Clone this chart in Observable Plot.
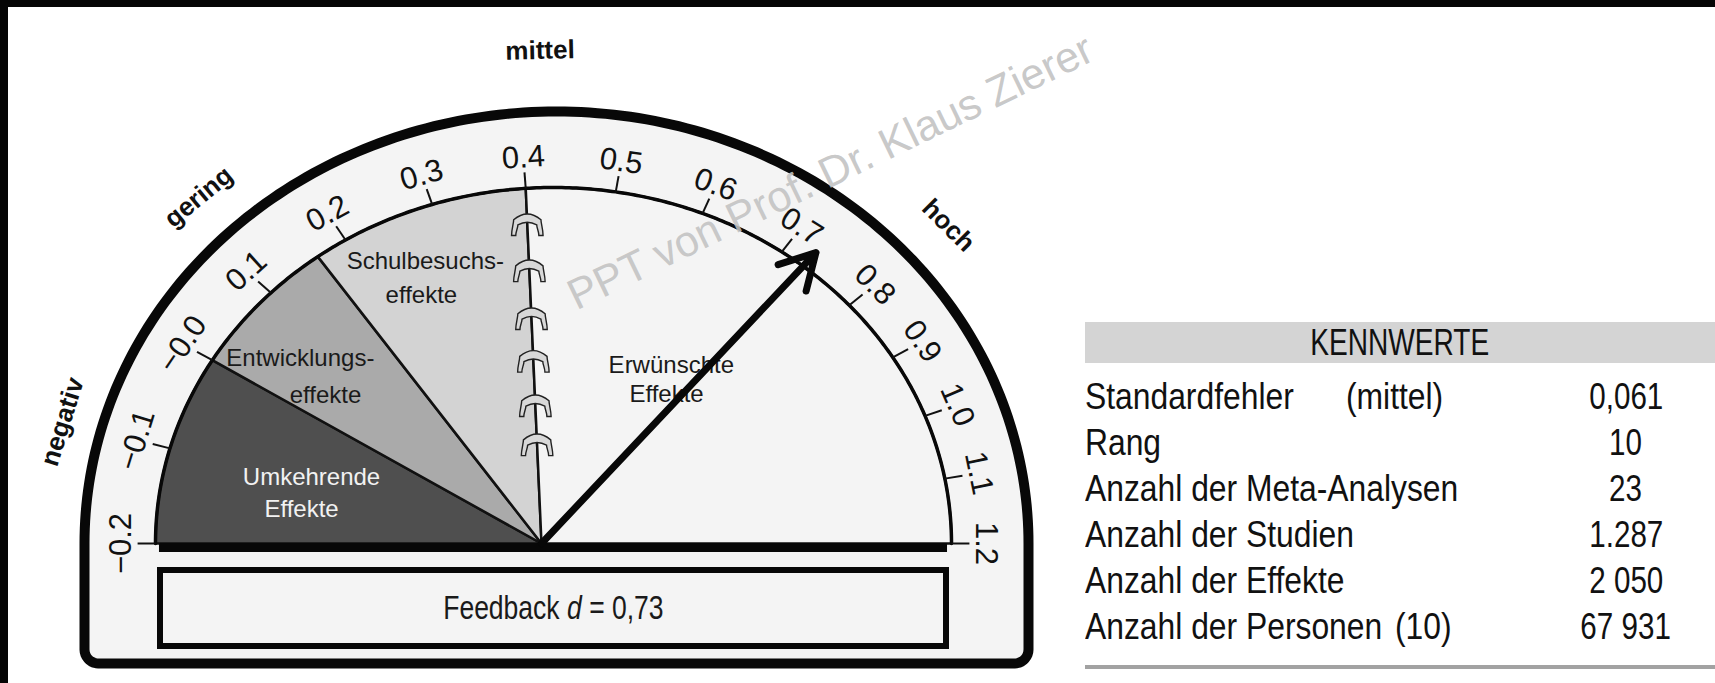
<!DOCTYPE html>
<html><head><meta charset="utf-8">
<script src="https://cdn.jsdelivr.net/npm/d3@7"></script>
<script src="https://cdn.jsdelivr.net/npm/@observablehq/plot@0.6"></script>
<style>
html,body{margin:0;padding:0;background:#fff;}
body{width:1715px;height:683px;position:relative;overflow:hidden;font-family:"Liberation Sans",Arial,sans-serif;color:#111;}
#chart{position:absolute;left:0;top:0;}
.frame{position:absolute;background:#050505;}
.kw{position:absolute;white-space:nowrap;}
.kw span{display:inline-block;}
</style></head><body>
<div id="chart"></div>
<div id="table"></div>
<div class="frame" style="left:0;top:0;width:1715px;height:7px"></div>
<div class="frame" style="left:0;top:0;width:8px;height:683px"></div>
<script>
// ---------------- data ----------------
const scaleTicks = [-0.2,-0.1,0.0,0.1,0.2,0.3,0.4,0.5,0.6,0.7,0.8,0.9,1.0,1.1,1.2];
const tickLabels = ["−0.2","−0.1","−0.0","0.1","0.2","0.3","0.4","0.5","0.6","0.7","0.8","0.9","1.0","1.1","1.2"];
const zoneNames  = ["Umkehrende Effekte","Entwicklungseffekte","Schulbesuchseffekte","Erwünschte Effekte"];
const zoneStart  = [-0.2, 0.0, 0.165, 0.4];
const zoneEnd    = [0.0, 0.165, 0.4, 1.2];
const zoneLines  = [["Umkehrende","Effekte"],["Entwicklungs-","effekte"],["Schulbesuchs-","effekte"],["Erwünschte","Effekte"]];
const levelNames = ["negativ","gering","mittel","hoch"];
const levelAt    = [-0.1, 0.12, 0.42, 0.8];
const hingeValue = 0.4;
const hingeTeeth = [0.28, 0.39, 0.515, 0.635, 0.77, 0.9];
const effectName = "Feedback";
const effectD    = 0.73;
const kennTitle  = "KENNWERTE";
const kennLabels = ["Standardfehler","Rang","Anzahl der Meta-Analysen","Anzahl der Studien","Anzahl der Effekte","Anzahl der Personen"];
const kennNotes  = ["(mittel)","","","","","(10)"];
const kennValues = ["0,061","10","23","1.287","2 050","67 931"];
const watermark  = "PPT von Prof. Dr. Klaus Zierer";

// ---------------- layout & style ----------------
const W = 1715, H = 683;
const CX = 553, CY = 543, RX = 398, RY = 356;          // dial centre and inner radii (px)
const rad = Math.PI / 180;
const angle = d3.scaleLinear().domain([-0.2, 0.0, 0.4, 0.8, 1.2]).range([180, 149, 94, 42, 0]);
const px = (v, r = 1) => r * Math.cos(angle(v) * rad);
const py = (v, r = 1) => r * Math.sin(angle(v) * rad);
const tangent = v => Math.atan2(RY * Math.cos(angle(v) * rad), RX * Math.sin(angle(v) * rad)) / rad;
const pivot = {x: -12 / RX, y: 0};
const zoneFill = ["#4f4f4f", "#aaaaaa", "#d3d3d3", "#f4f4f4"];
const zoneText = ["#f2f2f2", "#1a1a1a", "#1a1a1a", "#1a1a1a"];
const zoneLabelPos = [
  [{x:-0.608,y:0.185},{x:-0.633,y:0.096}],
  [{x:-0.636,y:0.520},{x:-0.573,y:0.416}],
  [{x:-0.322,y:0.792},{x:-0.332,y:0.697}],
  [{x: 0.296,y:0.500},{x: 0.284,y:0.419}]
];
const levelRadius = [1.28, 1.32, 1.385, 1.335];

// outer frame (semi-ellipse + lower band with rounded corners)
const OCX = 3 / RX, ORX = 472 / RX, ORY = 432 / RY, OBOT = (CY - 663) / RY, cx = 14 / RX, cy = 14 / RY;
const outer = [];
for (let a = 180; a >= 0; a -= 1) outer.push({x: OCX + ORX * Math.cos(a * rad), y: ORY * Math.sin(a * rad)});
for (let a = 0; a >= -90; a -= 10) outer.push({x: OCX + ORX - cx + cx * Math.cos(a * rad), y: OBOT + cy + cy * Math.sin(a * rad)});
for (let a = -90; a >= -180; a -= 10) outer.push({x: OCX - ORX + cx + cx * Math.cos(a * rad), y: OBOT + cy + cy * Math.sin(a * rad)});
outer.push(outer[0]);

const sampleArc = (a, b) => { const n = Math.max(2, Math.round((b - a) / 0.004)); return d3.range(n + 1).map(i => a + (b - a) * i / n); };
const sectors = zoneNames.map((name, i) => [pivot, ...sampleArc(zoneStart[i], zoneEnd[i]).map(v => ({x: px(v), y: py(v)})), pivot]);
const innerArc = sampleArc(-0.2, 1.2).map(v => ({x: px(v), y: py(v)}));

// hinge tooth: arched cap with splayed legs
const arch = {
  draw(ctx) {
    const s = 1.05;
    ctx.moveTo(-15 * s, 11 * s);
    ctx.bezierCurveTo(-15 * s, 5 * s, -13 * s, 0, -13 * s, -4 * s);
    ctx.quadraticCurveTo(0, -15 * s, 13 * s, -4 * s);
    ctx.bezierCurveTo(13 * s, 0, 15 * s, 5 * s, 15 * s, 11 * s);
    ctx.lineTo(11 * s, 11 * s);
    ctx.bezierCurveTo(11 * s, 7 * s, 9 * s, 4 * s, 9 * s, 1 * s);
    ctx.quadraticCurveTo(0, -4 * s, -9 * s, 1 * s);
    ctx.bezierCurveTo(-9 * s, 4 * s, -11 * s, 7 * s, -11 * s, 11 * s);
    ctx.closePath();
  }
};

const box = {x1: (160 - CX) / RX, x2: (946 - CX) / RX, y1: (CY - 570) / RY, y2: (CY - 646) / RY};
const fmt = v => String(v).replace(".", ",");
const labelData = zoneLines.flatMap((lines, i) => lines.map((t, j) => ({t, i, ...zoneLabelPos[i][j]})));

const plot = Plot.plot({
  width: W, height: H, margin: 0,
  x: {type: "linear", domain: [(0 - CX) / RX, (W - CX) / RX], range: [0, W], axis: null},
  y: {type: "linear", domain: [(CY - H) / RY, CY / RY], range: [H, 0], axis: null},
  style: {fontFamily: "'Liberation Sans', Arial, sans-serif", background: "transparent", overflow: "visible"},
  marks: [
    Plot.line(outer, {x: "x", y: "y", fill: "#f4f4f4", stroke: "#080808", strokeWidth: 10, strokeLinejoin: "round", curve: "linear"}),
    sectors.map((pts, i) => Plot.line(pts, {x: "x", y: "y", fill: zoneFill[i], stroke: "#111", strokeWidth: 2.5, strokeLinejoin: "round"})),
    Plot.line(innerArc, {x: "x", y: "y", stroke: "#080808", strokeWidth: 3.5}),
    Plot.link(scaleTicks, {x1: v => px(v, 1), y1: v => py(v, 1), x2: v => px(v, 1.045), y2: v => py(v, 1.045), stroke: "#111", strokeWidth: 2}),
    Plot.text(scaleTicks, {x: v => px(v, 1.087), y: v => py(v, 1.087), text: (v, i) => tickLabels[i], rotate: v => tangent(v), fontSize: 31, fill: "#111"}),
    Plot.dot(hingeTeeth, {x: f => pivot.x + f * (px(hingeValue) - pivot.x), y: f => f * py(hingeValue), symbol: arch, r: 15, fill: "#d8d8d8", stroke: "#222", strokeWidth: 1.4}),
    Plot.ruleY([0], {x1: -0.99, x2: 0.99, stroke: "#080808", strokeWidth: 9, dy: 4}),
    Plot.rect([effectD], {x1: box.x1, x2: box.x2, y1: box.y1, y2: box.y2, fill: "#f4f4f4", stroke: "#080808", strokeWidth: 6}),
    Plot.text([effectD], {x: 0, y: (box.y1 + box.y2) / 2, text: d => `${effectName} d = ${fmt(d)}`, fontSize: 34, fill: "#1a1a1a"}),
    Plot.text(labelData, {x: "x", y: "y", text: "t", fill: d => zoneText[d.i], fontSize: 24}),
    Plot.text(levelNames, {x: (d, i) => px(levelAt[i], levelRadius[i]), y: (d, i) => py(levelAt[i], levelRadius[i]), text: d => d, rotate: (d, i) => tangent(levelAt[i]), fontSize: 26, fontWeight: "bold", fill: "#111"}),
    Plot.arrow([effectD], {x1: pivot.x, y1: 0, x2: v => px(v, 1.05), y2: v => py(v, 1.05), stroke: "#080808", strokeWidth: 7, headLength: 8.5, headAngle: 58}),
    Plot.text([watermark], {x: 0.696, y: 1.042, text: d => d, rotate: -25.8, fontSize: 43, fill: "#c2c2c2", fillOpacity: 0.9})
  ]
});
document.getElementById("chart").appendChild(plot);

// italic "d" and condensed feedback label
const svgNS = "http://www.w3.org/2000/svg";
for (const t of plot.querySelectorAll("text")) {
  if (t.textContent.startsWith(effectName)) {
    t.textContent = "";
    const parts = [[effectName + " ", null], ["d", "italic"], [" = " + fmt(effectD), null]];
    for (const [s, st] of parts) { const sp = document.createElementNS(svgNS, "tspan"); sp.textContent = s; if (st) sp.setAttribute("font-style", st); t.appendChild(sp); }
    const g = t.parentNode, wrap = document.createElementNS(svgNS, "g");
    wrap.setAttribute("transform", `translate(${CX},0) scale(0.78,1) translate(${-CX},0)`);
    g.parentNode.insertBefore(wrap, g); wrap.appendChild(g);
  }
}

// ---------------- table (KENNWERTE) ----------------
const T = document.getElementById("table");
const el = (css, html) => { const d = document.createElement("div"); d.className = "kw"; d.style.cssText = css; d.innerHTML = html; T.appendChild(d); return d; };
el("left:1085px;top:322px;width:630px;height:41px;background:#d4d4d4;", "");
el("left:1085px;top:322px;width:630px;height:41px;line-height:41px;font-size:36px;text-align:center;", `<span style="transform:scaleX(0.78);">${kennTitle}</span>`);
kennLabels.forEach((lab, i) => {
  const top = 374 + 46 * i;
  el(`left:1085px;top:${top}px;height:46px;line-height:46px;font-size:37px;`, `<span style="transform:scaleX(0.86);transform-origin:left center;">${lab}</span>`);
  if (kennNotes[i]) el(`left:${i === 0 ? 1346 : 1395}px;top:${top}px;height:46px;line-height:46px;font-size:37px;`, `<span style="transform:scaleX(0.86);transform-origin:left center;">${kennNotes[i]}</span>`);
  el(`left:1526px;width:200px;top:${top}px;height:46px;line-height:46px;font-size:37px;text-align:center;`, `<span style="transform:scaleX(0.8);">${kennValues[i]}</span>`);
});
el("left:1085px;top:665px;width:630px;height:4px;background:#a2a2a2;", "");
</script>
</body></html>
